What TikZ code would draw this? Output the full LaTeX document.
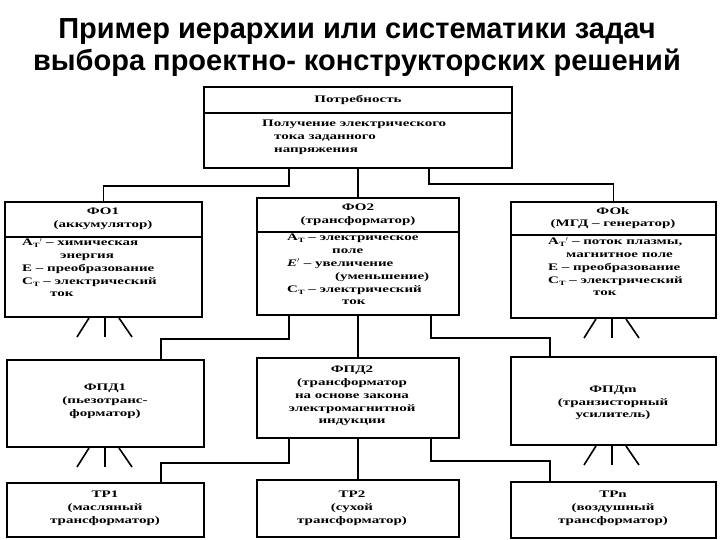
\documentclass[tikz,border=0pt]{standalone}
\usepackage{fontspec}
\setmainfont{Liberation Serif}
\newfontfamily\titlefont{Liberation Sans}
\newfontfamily\boxfont{Liberation Serif}[FakeStretch=1.5]
\usetikzlibrary{positioning}
\tikzset{
  box/.style={draw, line width=2pt, inner sep=0pt},
  lnk/.style={line width=1.8pt},
  fan/.style={line width=1.6pt},
  txt/.style={font=\boxfont\fontsize{10}{12.8}\selectfont\bfseries, align=center, inner sep=0pt},
  body/.style={font=\boxfont\fontsize{10}{12.8}\selectfont\bfseries, align=left, inner sep=0pt, anchor=north west}
}
\newcommand{\sub}[1]{\raisebox{-2pt}{\fontsize{6.5}{6.5}\selectfont #1}}
\begin{document}
\begin{tikzpicture}[x=1pt,y=-1pt]
		\useasboundingbox (0,0) rectangle (720,540);
		% title
		\node[font=\titlefont\bfseries\fontsize{29}{32}\selectfont, align=center] (title) at (357,48) {Пример иерархии или систематики задач\\выбора проектно- конструкторских решений};

		% level 0
		\node[box, minimum width=308, minimum height=81] (need) at (358,127.5) {};
		\draw[line width=1.6pt] (need.west |- 0,113) -- (need.east |- 0,113);
		\node[txt] (needh) at (358,100) {Потребность};
		\node[body] (needb) at (262,120) {Получение электрического\\\hspace*{12pt}тока заданного\\\hspace*{12pt}напряжения};

		% level 1
		\node[box, minimum width=197, minimum height=115] (fo1) at (103.5,259.5) {};
		\node[box, minimum width=202, minimum height=117] (fo2) at (358,256.5) {};
		\node[box, minimum width=205, minimum height=116] (fok) at (613.5,260) {};
		\draw[line width=1.6pt] (fo1.west |- 0,237) -- (fo1.east |- 0,237);
		\draw[line width=1.6pt] (fo2.west |- 0,232) -- (fo2.east |- 0,232);
		\draw[line width=1.6pt] (fok.west |- 0,235) -- (fok.east |- 0,235);
		\node[txt] (fo1h) at (103,219) {ФО1\\(аккумулятор)};
		\node[txt] (fo2h) at (358,215) {ФО2\\(трансформатор)};
		\node[txt] (fokh) at (613,218) {ФОk\\(МГД – генератор)};
		\node[body] (fo1b) at (22,238) {А\sub{Т}$'$ – химическая\\\hspace*{38pt}энергия\\Е – преобразование\\С\sub{Т} – электрический\\\hspace*{28pt}ток};
		\node[body] (fo2b) at (287,234) {А\sub{Т} – электрическое\\\hspace*{45pt}поле\\\textit{E}$'$ – увеличение\\\hspace*{48pt}(уменьшение)\\С\sub{Т} – электрический\\\hspace*{55pt}ток};
		\node[body] (fokb) at (548,237) {А\sub{Т}$'$ – поток плазмы,\\\hspace*{18pt}магнитное поле\\Е – преобразование\\С\sub{Т} – электрический\\\hspace*{45pt}ток};

		% level 2
		\node[box, minimum width=197, minimum height=87] (fpd1) at (105.5,403.5) {};
		\node[box, minimum width=202, minimum height=80] (fpd2) at (358,398) {};
		\node[box, minimum width=205, minimum height=88] (fpdm) at (613.5,401) {};
		\node[txt] (fpd1t) at (105,401) {ФПД1\\(пьезотранс-\\форматор)};
		\node[txt] (fpd2t) at (352,396) {ФПД2\\(трансформатор\\на основе закона\\электромагнитной\\индукции};
		\node[txt] (fpdmt) at (613,403) {ФПДm\\(транзисторный\\усилитель)};

		% level 3
		\node[box, minimum width=197, minimum height=54] (tr1) at (105.5,510) {};
		\node[box, minimum width=202, minimum height=57] (tr2) at (358,508.5) {};
		\node[box, minimum width=205, minimum height=56] (trn) at (613.5,510) {};
		\node[txt] (tr1t) at (105,508) {ТР1\\(масляный\\трансформатор)};
		\node[txt] (tr2t) at (352,508) {ТР2\\(сухой\\трансформатор)};
		\node[txt] (trnt) at (613,508) {ТРn\\(воздушный\\трансформатор)};

		% connectors
		\draw[lnk] (need.south -| 289,0) -- ++(0,17) -| (fo1.north);
		\draw[lnk] (need.south) -- (fo2.north);
		\draw[lnk] (need.south -| 429,0) -- ++(0,15) -| (fok.north);
		\draw[lnk] (fo2.south -| 289,0) -- ++(0,23) -| (fpd1.north -| 161,0);
		\draw[lnk] (fo2.south) -- (fpd2.north);
		\draw[lnk] (fo2.south -| 431,0) -- ++(0,22) -| (fpdm.north -| 550,0);
		\draw[lnk] (fpd2.south -| 289,0) -- ++(0,24) -| (tr1.north -| 161,0);
		\draw[lnk] (fpd2.south) -- (tr2.north);
		\draw[lnk] (fpd2.south -| 431,0) -- ++(0,22) -| (trn.north -| 550,0);

		% fans
		\foreach \b/\x in {fo1/105,fpd1/105,fok/612,fpdm/612} {
			\draw[fan] (\b.south -| \x-16,0) -- ++(-12,19);
			\draw[fan] (\b.south -| \x,0) -- ++(0,19);
			\draw[fan] (\b.south -| \x+14,0) -- ++(13,19);
		}
\end{tikzpicture}
\end{document}
